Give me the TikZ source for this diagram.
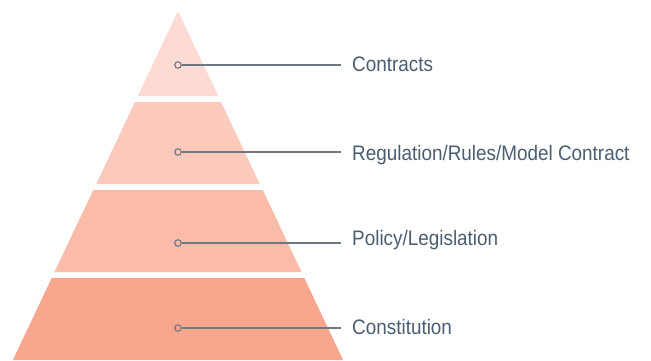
\documentclass[tikz,border=0pt]{standalone}
\usepackage{fontspec}
\setmainfont{Liberation Sans}
\newfontfamily\tierfont[FakeStretch=0.9]{Liberation Sans}
\usepackage{xcolor}
\usepackage{tikz}
\usetikzlibrary{positioning}
\definecolor{tierone}{HTML}{FDDBD2}
\definecolor{tiertwo}{HTML}{FBCABD}
\definecolor{tierthree}{HTML}{FABBA9}
\definecolor{tierfour}{HTML}{F8A78E}
\definecolor{leadgray}{HTML}{6E7882}
\definecolor{labelslate}{HTML}{4A5E72}

\tikzset{
  dot/.style={circle, draw=leadgray, line width=1.1pt, inner sep=0pt, minimum size=6.5pt},
  lead/.style={leadgray, line width=1.2pt},
  tierlabel/.style={anchor=base west, inner sep=0pt, text=labelslate, font=\tierfont\fontsize{21}{24}\selectfont}
}

\begin{document}
\begin{tikzpicture}[x=1pt, y=-1pt]
\useasboundingbox (0,0) rectangle (651,360);

% Pyramid tiers (top to bottom)
\fill[tierone] (178,11) -- (218.2,96) -- (137.8,96) -- cycle;
\fill[tiertwo] (135,102) -- (221,102) -- (259.8,184) -- (96.2,184) -- cycle;
\fill[tierthree] (93.3,190) -- (262.7,190) -- (301.5,272) -- (54.5,272) -- cycle;
\fill[tierfour] (51.7,278) -- (304.3,278) -- (343.1,360) -- (12.9,360) -- cycle;

% Markers on the tiers
\node[dot] (dot1) at (178,65) {};
\node[dot] (dot2) at (178,152) {};
\node[dot] (dot3) at (178,243) {};
\node[dot] (dot4) at (178,328) {};

% Line ends
\coordinate (end1) at (341,65);
\coordinate (end2) at (341,152);
\coordinate (end3) at (341,243);
\coordinate (end4) at (341,328);

% Labels
\node[tierlabel] (lab1) at (352,71) {Contracts};
\node[tierlabel] (lab2) at (352,160) {Regulation/Rules/Model Contract};
\node[tierlabel] (lab3) at (352,245) {Policy/Legislation};
\node[tierlabel] (lab4) at (352,334) {Constitution};

% Leader lines
\draw[lead] (dot1) -- (end1);
\draw[lead] (dot2) -- (end2);
\draw[lead] (dot3) -- (end3);
\draw[lead] (dot4) -- (end4);
\end{tikzpicture}
\end{document}
